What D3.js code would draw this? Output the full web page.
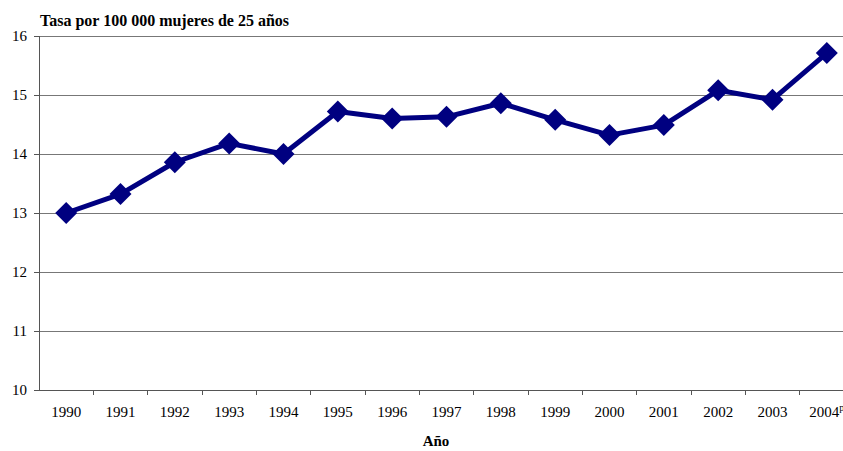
<!DOCTYPE html>
<html>
<head>
<meta charset="utf-8">
<script src="https://cdn.jsdelivr.net/npm/d3@7"></script>
<style>
  html, body { margin: 0; padding: 0; background: #fff; overflow: hidden; }
  svg, svg text { font-family: "Liberation Serif", "Times New Roman", serif !important; }
</style>
</head>
<body>
<svg id="chart" width="843" height="451"></svg>
<script>
const years = ["1990","1991","1992","1993","1994","1995","1996","1997","1998","1999","2000","2001","2002","2003","2004"];
const rates = [13.0, 13.32, 13.86, 14.18, 14.0, 14.72, 14.60, 14.63, 14.86, 14.58, 14.32, 14.49, 15.08, 14.92, 15.71];
const yTicks = [10, 11, 12, 13, 14, 15, 16];
const yTitle = "Tasa por 100 000 mujeres de 25 años";
const xTitle = "Año";
const lastSup = "p";

(function () {
const svg = d3.select("#chart");
const mLeft = 39, mRight = 854, mTop = 36, mBottom = 390;

const x = d3.scaleBand().domain(years).range([mLeft, mRight]);
const y = d3.scaleLinear().domain([10, 16]).range([mBottom, mTop]);

// gridlines
svg.append("g").selectAll("line").data(yTicks.filter(d => d > 10)).join("line")
  .attr("x1", mLeft).attr("x2", mRight)
  .attr("y1", d => y(d)).attr("y2", d => y(d))
  .attr("stroke", "#777").attr("stroke-width", 1).attr("shape-rendering", "crispEdges");

// y axis
const yAxis = svg.append("g").attr("transform", `translate(${mLeft},0)`)
  .call(d3.axisLeft(y).tickValues(yTicks).tickSize(5).tickPadding(7).tickFormat(d3.format("d")));
yAxis.select(".domain").attr("stroke", "#555").attr("shape-rendering", "crispEdges");
yAxis.selectAll(".tick line").attr("stroke", "#555").attr("shape-rendering", "crispEdges");
yAxis.selectAll("text").style("font-size", "15px").attr("fill", "#000");

// x axis
const xAxis = svg.append("g").attr("transform", `translate(0,${mBottom})`)
  .call(d3.axisBottom(x).tickSize(0).tickPadding(16));
xAxis.select(".domain").attr("stroke", "#555").attr("shape-rendering", "crispEdges");
xAxis.selectAll("text").style("font-size", "15px").attr("fill", "#000");
xAxis.selectAll(".tick text").filter(d => d === years[years.length - 1])
  .append("tspan").attr("dy", -6).style("font-size", "10px").text(lastSup);
// tick marks between categories
svg.append("g").selectAll("line").data(years.slice(1)).join("line")
  .attr("x1", d => x(d)).attr("x2", d => x(d))
  .attr("y1", mBottom).attr("y2", mBottom + 5)
  .attr("stroke", "#555").attr("shape-rendering", "crispEdges");

// line
const cx = d => x(d) + x.bandwidth() / 2;
const data = years.map((yr, i) => ({ yr, v: rates[i] }));
svg.append("path").datum(data)
  .attr("fill", "none").attr("stroke", "#000080").attr("stroke-width", 5)
  .attr("stroke-linejoin", "round")
  .attr("d", d3.line().x(d => cx(d.yr)).y(d => y(d.v)));

// markers
svg.append("g").selectAll("path").data(data).join("path")
  .attr("transform", d => `translate(${cx(d.yr)},${y(d.v)})`)
  .attr("d", "M0,-11L11,0L0,11L-11,0Z")
  .attr("fill", "#000080");

// titles
svg.append("text").attr("x", 40).attr("y", 26)
  .style("font-size", "16px").attr("font-weight", "bold").text(yTitle);
svg.append("text").attr("x", 436).attr("y", 446).attr("text-anchor", "middle")
  .style("font-size", "15px").attr("font-weight", "bold").text(xTitle);
})();
</script>
</body>
</html>
